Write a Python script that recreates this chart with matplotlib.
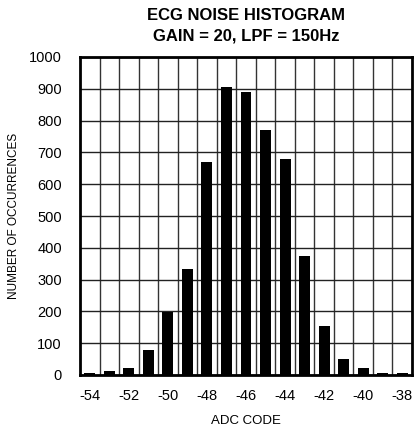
import numpy as np
import matplotlib
matplotlib.use("Agg")
import matplotlib.pyplot as plt
from matplotlib import font_manager

# ------------ DATA ------------
adc_codes = [-54, -53, -52, -51, -50, -49, -48, -47, -46, -45, -44, -43, -42, -41, -40, -39, -38]
occurrences = [6, 13, 23, 79, 197, 333, 669, 907, 891, 772, 680, 374, 153, 51, 22, 6, 6]
x_ticks = [-54, -52, -50, -48, -46, -44, -42, -40, -38]
y_ticks = [0, 100, 200, 300, 400, 500, 600, 700, 800, 900, 1000]

# narrow arial-like font if we have it
names = {f.name for f in font_manager.fontManager.ttflist}
family = "Liberation Sans Narrow" if "Liberation Sans Narrow" in names else "Liberation Sans"
plt.rcParams["font.family"] = [family, "DejaVu Sans"]

fig = plt.figure(figsize=(4.17, 4.30), dpi=100)
ax = fig.add_axes([80 / 417, 1 - 375 / 430, 332 / 417, 318 / 430])

ax.bar(adc_codes, occurrences, width=0.56, color="black", zorder=3)

ax.set_xlim(-54.5, -37.5)
ax.set_ylim(0, 1000)
ax.set_xticks(x_ticks)
ax.set_xticklabels([str(t) for t in x_ticks], fontsize=10.5)
ax.set_yticks(y_ticks)
ax.set_yticklabels([str(t) for t in y_ticks], fontsize=10.5)
ax.set_xticks(np.arange(-53.5, -37.5, 1), minor=True)
ax.tick_params(which="both", length=0)
ax.tick_params(axis="y", pad=13)
ax.tick_params(axis="x", pad=10)

ax.grid(which="minor", axis="x", color="#333333", linewidth=1.0, zorder=1)
ax.grid(which="major", axis="y", color="#222222", linewidth=1.0, zorder=1)
ax.grid(which="major", axis="x", visible=False)
for s in ax.spines.values():
    s.set_linewidth(2)
    s.set_zorder(4)

ax.set_xlabel("ADC CODE", fontsize=9.5, labelpad=9)
ax.set_ylabel("NUMBER OF OCCURRENCES", fontsize=8.5)
ax.yaxis.set_label_coords(-60 / 332, 0.5)
fig.text(246 / 417, 1 - 15 / 430, "ECG NOISE HISTOGRAM", fontsize=12, fontweight="bold", ha="center", va="center")
fig.text(246 / 417, 1 - 36 / 430, "GAIN = 20, LPF = 150Hz", fontsize=12, fontweight="bold", ha="center", va="center")

fig.savefig("out.png", dpi=100)
